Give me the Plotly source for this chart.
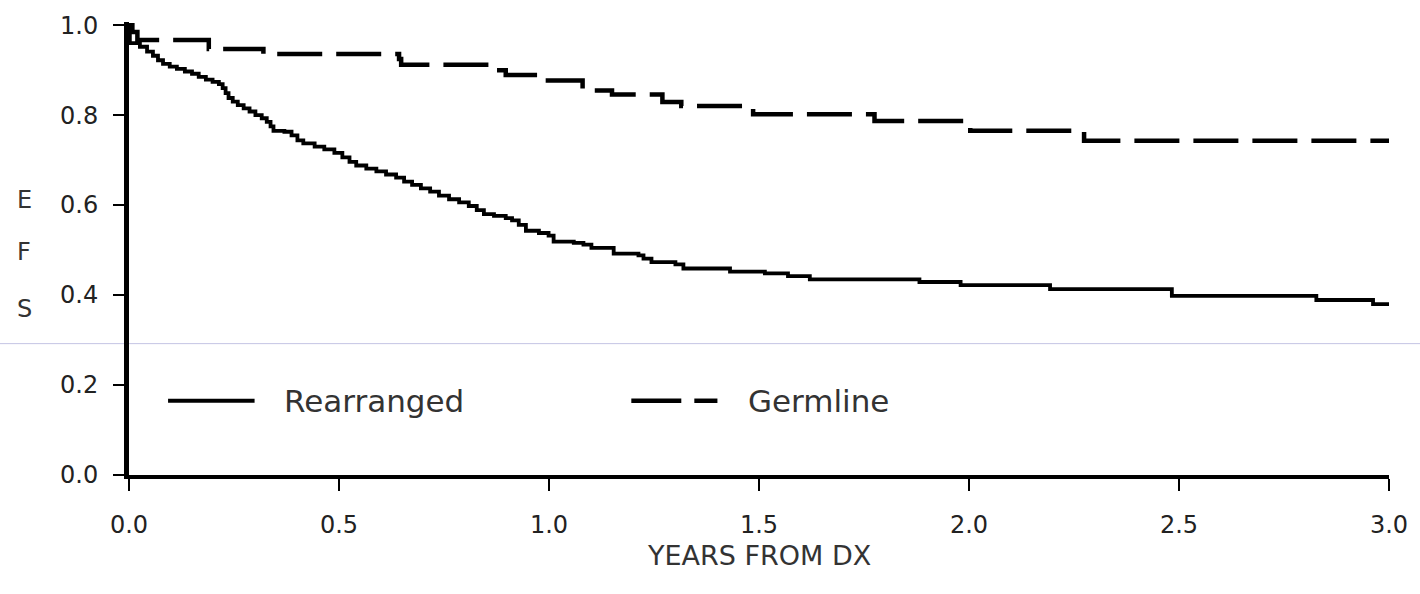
import plotly.graph_objects as go

# Kaplan-Meier event-free survival estimates (years from diagnosis, EFS)
rearranged_t = [0.0, 0.002, 0.026, 0.043, 0.057, 0.069, 0.081, 0.097, 0.114, 0.133,
                0.150, 0.166, 0.183, 0.199, 0.214, 0.223, 0.230, 0.237, 0.247, 0.259,
                0.273, 0.287, 0.301, 0.316, 0.328, 0.337, 0.344, 0.370, 0.387, 0.401,
                0.415, 0.442, 0.465, 0.489, 0.508, 0.525, 0.541, 0.565, 0.589, 0.612,
                0.636, 0.655, 0.674, 0.695, 0.717, 0.738, 0.762, 0.786, 0.809, 0.828,
                0.845, 0.869, 0.897, 0.912, 0.928, 0.945, 0.976, 0.999, 1.011, 1.059,
                1.082, 1.101, 1.154, 1.213, 1.225, 1.244, 1.301, 1.320, 1.431, 1.514,
                1.569, 1.621, 1.882, 1.980, 2.193, 2.483, 2.827, 2.962, 3.0]
rearranged_s = [1.0, 0.960, 0.952, 0.941, 0.932, 0.922, 0.914, 0.908, 0.903, 0.897,
                0.892, 0.885, 0.879, 0.874, 0.869, 0.860, 0.849, 0.838, 0.830, 0.822,
                0.815, 0.808, 0.800, 0.793, 0.785, 0.775, 0.765, 0.763, 0.755, 0.744,
                0.737, 0.730, 0.724, 0.716, 0.706, 0.696, 0.688, 0.681, 0.675, 0.668,
                0.661, 0.652, 0.645, 0.637, 0.630, 0.621, 0.613, 0.606, 0.598, 0.589,
                0.580, 0.576, 0.571, 0.566, 0.556, 0.543, 0.538, 0.532, 0.519, 0.516,
                0.512, 0.505, 0.492, 0.488, 0.481, 0.473, 0.468, 0.459, 0.452, 0.448,
                0.442, 0.435, 0.429, 0.422, 0.413, 0.398, 0.389, 0.380, 0.380]

germline_t = [0.0, 0.008, 0.02, 0.19, 0.32, 0.643, 0.648, 0.864, 0.897, 0.99,
              1.08, 1.15, 1.27, 1.315, 1.486, 1.775, 2.003, 2.274, 3.0]
germline_s = [1.0, 0.985, 0.967, 0.947, 0.936, 0.925, 0.912, 0.900, 0.889, 0.877,
              0.855, 0.846, 0.829, 0.820, 0.802, 0.787, 0.765, 0.743, 0.743]

x_ticks = [0.0, 0.5, 1.0, 1.5, 2.0, 2.5, 3.0]
x_tick_labels = ["0.0", "0.5", "1.0", "1.5", "2.0", "2.5", "3.0"]
y_ticks = [0.0, 0.2, 0.4, 0.6, 0.8, 1.0]
y_tick_labels = ["0.0", "0.2", "0.4", "0.6", "0.8", "1.0"]

FONT = "DejaVu Sans"
TEXT = "#222222"
LABEL = "#333333"
DASH = "45px,14px"

fig = go.Figure()
fig.add_trace(go.Scatter(
    x=rearranged_t, y=rearranged_s, mode="lines", name="Rearranged",
    line=dict(color="black", width=3.8, shape="hv"), showlegend=False,
))
fig.add_trace(go.Scatter(
    x=germline_t, y=germline_s, mode="lines", name="Germline",
    line=dict(color="black", width=4.5, shape="hv", dash=DASH), showlegend=False,
))

# In-plot key
key_y = 0.165
shapes = [
    dict(type="line", xref="x", yref="y", x0=0.093, x1=0.299, y0=key_y, y1=key_y,
         line=dict(color="black", width=4)),
    dict(type="line", xref="x", yref="y", x0=1.196, x1=1.315, y0=key_y, y1=key_y,
         line=dict(color="black", width=4.5)),
    dict(type="line", xref="x", yref="y", x0=1.346, x1=1.401, y0=key_y, y1=key_y,
         line=dict(color="black", width=4.5)),
    # faint horizontal rule across the page
    dict(type="line", xref="paper", yref="y", x0=-0.11, x1=1.03, y0=0.292, y1=0.292,
         line=dict(color="#c4c4e4", width=1), layer="below"),
]
annotations = [
    dict(x=0.365, y=key_y, xref="x", yref="y", text="Rearranged", showarrow=False,
         xanchor="left", yanchor="middle", font=dict(family=FONT, size=31, color=LABEL)),
    dict(x=1.470, y=key_y, xref="x", yref="y", text="Germline", showarrow=False,
         xanchor="left", yanchor="middle", font=dict(family=FONT, size=31, color=LABEL)),
    dict(x=0.5, y=-0.178, xref="paper", yref="paper", text="YEARS FROM DX", showarrow=False,
         xanchor="center", yanchor="middle", font=dict(family=FONT, size=27, color=LABEL)),
]
for letter, yv in zip(["E", "F", "S"], [0.611, 0.495, 0.370]):
    annotations.append(dict(x=-0.083, y=yv, xref="paper", yref="y", text=letter,
                            showarrow=False, xanchor="center", yanchor="middle",
                            font=dict(family=FONT, size=24, color=LABEL)))

fig.update_layout(
    width=1420, height=594,
    margin=dict(l=129, r=27, t=17, b=119),
    paper_bgcolor="white", plot_bgcolor="white",
    font=dict(family=FONT, color=TEXT),
    shapes=shapes, annotations=annotations,
    xaxis=dict(range=[0, 3.0], tickvals=x_ticks, ticktext=x_tick_labels,
               showgrid=False, zeroline=False, showline=True, linecolor="black",
               linewidth=4, ticks="outside", ticklen=12, tickwidth=2, tickcolor="black",
               ticklabelstandoff=13, tickfont=dict(family=FONT, size=24, color=TEXT)),
    yaxis=dict(range=[0, 1.007], tickvals=y_ticks, ticktext=y_tick_labels,
               showgrid=False, zeroline=False, showline=True, linecolor="black",
               linewidth=5, ticks="outside", ticklen=11, tickwidth=2, tickcolor="black",
               ticklabelstandoff=10, tickfont=dict(family=FONT, size=24, color=TEXT)),
)

fig.write_html("out.html")
